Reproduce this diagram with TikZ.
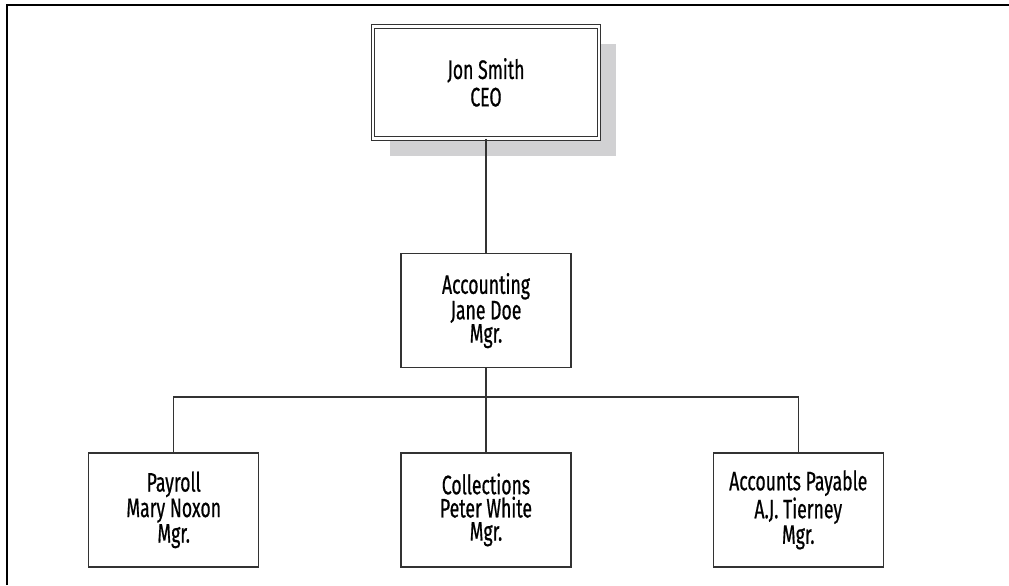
\documentclass[tikz,border=0pt]{standalone}
\usepackage{fontspec}
\setsansfont{Fira Sans}[FakeStretch=0.66, FakeBold=0.6]
\usepackage{tikz}
\usetikzlibrary{positioning, shadows}
\definecolor{ShadowGray}{HTML}{D1D1D3}
\definecolor{LineGray}{HTML}{333333}

\begin{document}
\begin{tikzpicture}[every node/.style={font=\sffamily\fontsize{19}{16.5}\selectfont},
  box/.style={draw=LineGray, line width=0.9pt, fill=white, minimum width=4.25cm,
    minimum height=2.85cm, align=center, inner sep=0pt},
  topbox/.style={box, double=white, double distance=1.6pt, line width=0.8pt,
    minimum width=5.65cm, minimum height=2.8cm,
    font=\sffamily\fontsize{19}{19.5}\selectfont,
    drop shadow={shadow xshift=0.43cm, shadow yshift=-0.44cm, fill=ShadowGray, opacity=1}},
  link/.style={LineGray, line width=0.8pt}
]
  \useasboundingbox (0,0) rectangle (25.225,-14.625);
  % Frame (top and left only)
  \draw[black, line width=1.4pt] (0.17,-14.625) -- (0.17,-0.13) -- (25.225,-0.13);

  % Row 1
  \node[topbox] (ceo) at (12.15,-2.06) {Jon Smith\\CEO};
  % Row 2
  \node[box, below=2.85cm of ceo] (acct) {Accounting\\Jane Doe\\Mgr.};
  % Row 3
  \node[box, below=2.1cm of acct] (coll) {Collections\\Peter White\\Mgr.};
  \node[box, left=3.525cm of coll] (pay) {Payroll\\Mary Noxon\\Mgr.};
  \node[box, right=3.525cm of coll] (ap) {Accounts Payable\\A.J. Tierney\\Mgr.};

  % Connectors
  \coordinate[below=0.72cm of acct.south] (bus);
  \draw[link] (ceo) -- (acct);
  \draw[link] (acct) -- (coll);
  \draw[link] (pay.north) |- (bus) -| (ap.north);
\end{tikzpicture}
\end{document}
